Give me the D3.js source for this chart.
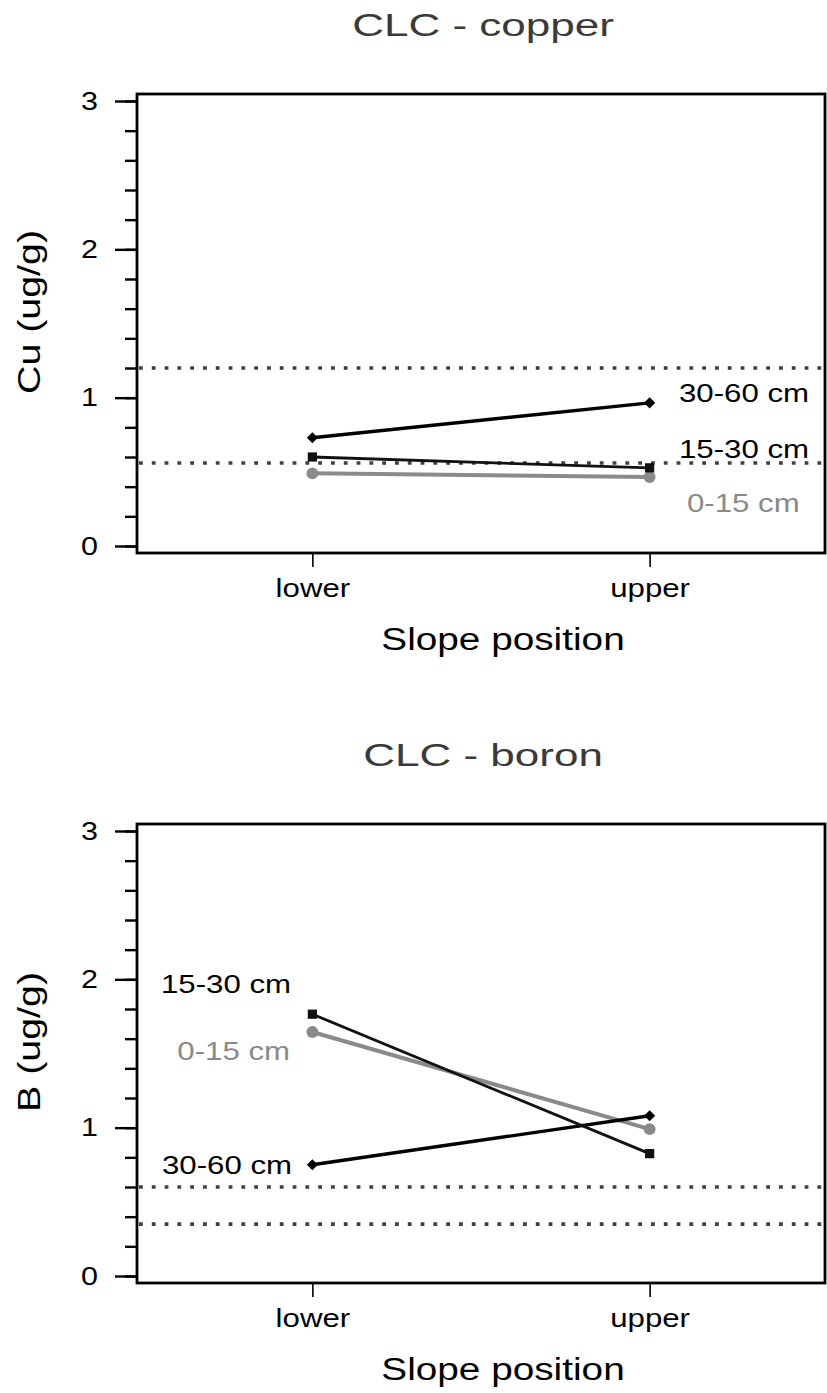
<!DOCTYPE html>
<html>
<head>
<meta charset="utf-8">
<script src="https://cdn.jsdelivr.net/npm/d3@7/dist/d3.min.js"></script>
<style>
  body { margin: 0; background: #fff; }
  text { font-family: "Liberation Sans", Arial, Helvetica, sans-serif; }
</style>
</head>
<body>
<svg id="chart" width="827" height="1393"></svg>
<script>
// categories
const slopePositions = ['lower', 'upper'];
const depthNames = ['0-15 cm', '15-30 cm', '30-60 cm'];
const yTickValues = [0, 1, 2, 3];

// copper (ug/g)
const cuShallow = [0.49, 0.465];
const cuMiddle = [0.60, 0.527];
const cuDeep = [0.73, 0.965];
const cuReference = [1.2, 0.56];

// boron (ug/g)
const bShallow = [1.645, 0.99];
const bMiddle = [1.765, 0.825];
const bDeep = [0.75, 1.08];
const bReference = [0.6, 0.35];

const svg = d3.select('#chart');

const seriesStyle = {
  '0-15 cm': { color: '#8a8a8a', width: 4, symbol: d3.symbolCircle, size: 110, rotate: 0 },
  '15-30 cm': { color: '#111', width: 2.8, symbol: d3.symbolSquare, size: 85, rotate: 0 },
  '30-60 cm': { color: '#000', width: 3.4, symbol: d3.symbolSquare, size: 62, rotate: 45 }
};

// widen glyphs horizontally, like the stretched type of the original
function stretch(sel, k) {
  sel.each(function() {
    const t = d3.select(this);
    const x = +t.attr('x') || 0;
    const y = +t.attr('y') || 0;
    t.attr('x', 0).attr('y', 0)
      .attr('transform', `translate(${x},${y}) scale(${k},1)`);
  });
}

function drawPanel(cfg) {
  const g = svg.append('g').attr('transform', `translate(0, ${cfg.offset})`);

  const x = d3.scalePoint().domain(slopePositions).range([137, 825]).padding(0.52);
  const y = d3.scaleLinear().domain([0, 3]).range([546, 101]);

  // title
  g.append('text')
    .attr('x', 483).attr('y', 36)
    .attr('text-anchor', 'middle')
    .attr('font-size', 31)
    .attr('fill', '#3a3a3a')
    .text(cfg.title)
    .call(stretch, 1.42);

  // reference (dotted) lines
  g.selectAll('line.ref')
    .data(cfg.reference)
    .join('line')
    .attr('class', 'ref')
    .attr('x1', 139).attr('x2', 824)
    .attr('y1', d => y(d)).attr('y2', d => y(d))
    .attr('stroke', '#404040')
    .attr('stroke-width', 3.6)
    .attr('stroke-dasharray', '3.8 9');

  // y axis: minor and major ticks
  const minor = g.append('g')
    .attr('transform', 'translate(137,0)')
    .call(d3.axisLeft(y).tickValues(d3.range(0, 3.01, 0.2)).tickSize(12).tickFormat(''));
  const major = g.append('g')
    .attr('transform', 'translate(137,0)')
    .call(d3.axisLeft(y).tickValues(yTickValues).tickSize(22).tickPadding(17).tickFormat(d3.format('d')));
  [minor, major].forEach(a => {
    a.select('.domain').remove();
    a.selectAll('.tick line').attr('stroke', '#000').attr('stroke-width', 2.4);
  });
  major.selectAll('.tick text')
    .attr('font-size', 25)
    .attr('fill', '#000')
    .call(stretch, 1.22);

  // x axis
  const xa = g.append('g')
    .attr('transform', 'translate(0,553)')
    .call(d3.axisBottom(x).tickSize(14).tickPadding(12));
  xa.select('.domain').remove();
  xa.selectAll('.tick line').attr('stroke', '#000').attr('stroke-width', 1.6);
  xa.selectAll('.tick text')
    .attr('font-size', 26)
    .attr('fill', '#000')
    .call(stretch, 1.2);
  [major, xa].forEach(a => a.attr('font-family', null));

  // frame
  g.append('rect')
    .attr('x', 137).attr('y', y(3) - 7)
    .attr('width', 825 - 137).attr('height', y(0) - y(3) + 14)
    .attr('fill', 'none')
    .attr('stroke', '#000')
    .attr('stroke-width', 2.8);

  // axis titles
  g.append('text')
    .attr('x', 503).attr('y', 650)
    .attr('text-anchor', 'middle')
    .attr('font-size', 31)
    .attr('fill', '#000')
    .text('Slope position')
    .call(stretch, 1.25);

  g.append('text')
    .attr('transform', 'translate(40,312) rotate(-90) scale(1.27,1)')
    .attr('text-anchor', 'middle')
    .attr('font-size', 31)
    .attr('fill', '#000')
    .text(cfg.yLabel);

  // series
  const line = d3.line().x((d, i) => x(slopePositions[i])).y(d => y(d));
  cfg.series.forEach(s => {
    const st = seriesStyle[s.name];
    g.append('path')
      .datum(s.values)
      .attr('d', line)
      .attr('fill', 'none')
      .attr('stroke', st.color)
      .attr('stroke-width', st.width);
    g.selectAll(null)
      .data(s.values)
      .join('path')
      .attr('d', d3.symbol().type(st.symbol).size(st.size))
      .attr('transform', (d, i) => `translate(${x(slopePositions[i])},${y(d)}) rotate(${st.rotate})`)
      .attr('fill', st.color);
  });

  // series labels
  cfg.labels.forEach(l => {
    g.append('text')
      .attr('x', l.x).attr('y', y(l.y))
      .attr('text-anchor', l.anchor)
      .attr('font-size', 26)
      .attr('fill', l.name === depthNames[0] ? '#8a8a8a' : '#000')
      .text(l.name)
      .call(stretch, 1.2);
  });
}

drawPanel({
  offset: 0,
  title: 'CLC - copper',
  yLabel: 'Cu (ug/g)',
  reference: cuReference,
  series: [
    { name: depthNames[0], values: cuShallow },
    { name: depthNames[1], values: cuMiddle },
    { name: depthNames[2], values: cuDeep }
  ],
  labels: [
    { name: depthNames[2], x: 679, y: 0.97, anchor: 'start' },
    { name: depthNames[1], x: 679, y: 0.595, anchor: 'start' },
    { name: depthNames[0], x: 687, y: 0.23, anchor: 'start' }
  ]
});

drawPanel({
  offset: 730,
  title: 'CLC - boron',
  yLabel: 'B (ug/g)',
  reference: bReference,
  series: [
    { name: depthNames[0], values: bShallow },
    { name: depthNames[2], values: bDeep },
    { name: depthNames[1], values: bMiddle }
  ],
  labels: [
    { name: depthNames[1], x: 291, y: 1.905, anchor: 'end' },
    { name: depthNames[0], x: 290, y: 1.455, anchor: 'end' },
    { name: depthNames[2], x: 292, y: 0.69, anchor: 'end' }
  ]
});
</script>
</body>
</html>
